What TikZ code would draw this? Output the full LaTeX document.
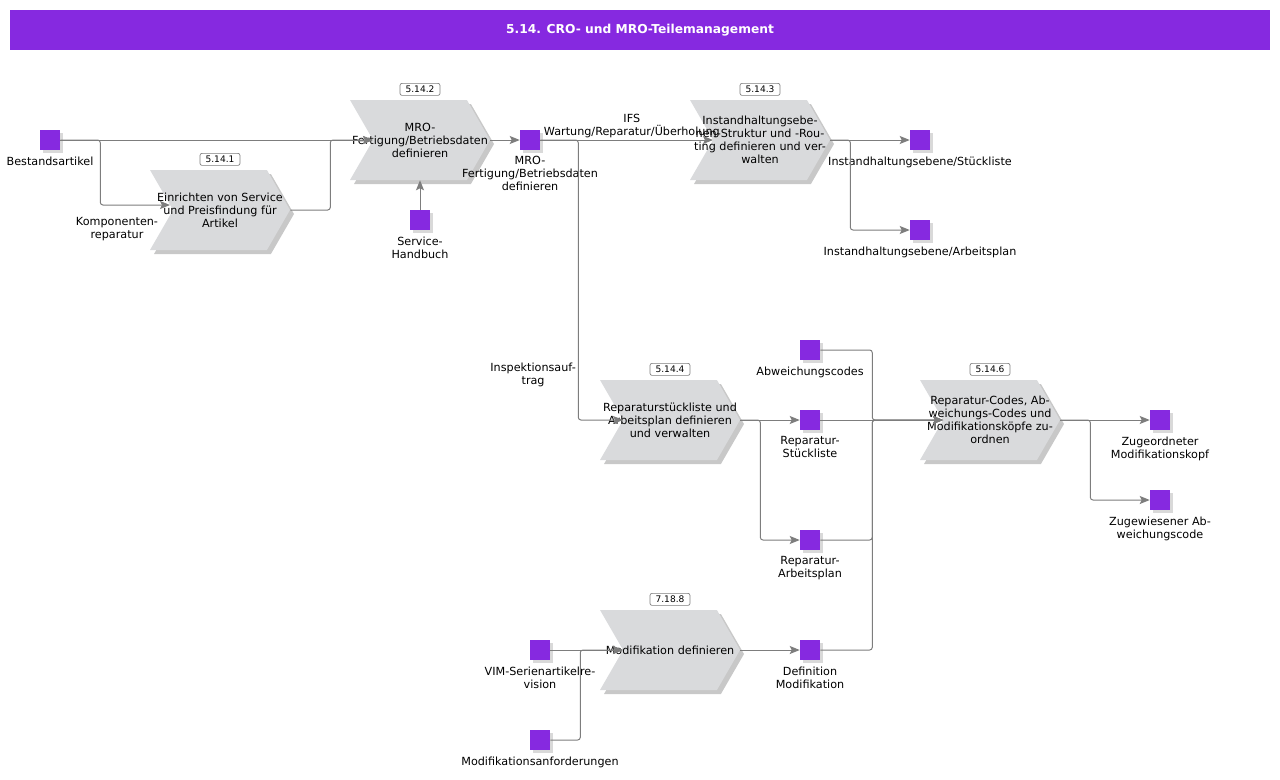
\documentclass[tikz,border=0pt]{standalone}
\usepackage{fontspec}
\setmainfont{DejaVu Sans}
\usetikzlibrary{shapes.symbols,shadows,arrows.meta,calc}
\definecolor{title-purple}{RGB}{134,41,224}
\definecolor{chevron-gray}{RGB}{217,218,220}
\definecolor{shadow-gray}{RGB}{200,200,200}
\definecolor{line-gray}{RGB}{125,125,125}
\tikzset{
    title-bar/.style = {fill=title-purple, text=white, font=\fontsize{9.2}{11}\selectfont\bfseries, minimum width=945pt, minimum height=30pt, inner sep=0pt},
    process-step/.style = {signal, signal to=east, signal from=west, signal pointer angle=120, fill=chevron-gray, minimum width=105pt, minimum height=60pt, inner sep=0pt, drop shadow={shadow xshift=3pt, shadow yshift=-3pt, fill=shadow-gray, opacity=1}},
    process-id/.style = {draw=line-gray, fill=white, rounded corners=1.5pt, line width=0.5pt, minimum width=30pt, minimum height=9pt, inner sep=0pt, font=\fontsize{6.8}{8}\selectfont, label distance=3pt},
    process-text/.style = {align=center, inner sep=0pt},
    data-box/.style = {fill=title-purple, minimum size=15pt, inner sep=0pt, drop shadow={shadow xshift=2pt, shadow yshift=-2pt, fill=shadow-gray!70, opacity=1}},
    data-text/.style = {align=center, inner sep=1pt, label distance=3.5pt},
    flow-arrow/.style = {draw=line-gray, line width=0.75pt, rounded corners=2pt, -{Stealth[length=7.5pt, width=6pt, inset=1.5pt]}},
    flow-text/.style = {align=center, inner sep=1.5pt},
}

\begin{document}
\begin{tikzpicture}[x=0.75pt, y=-0.75pt, font=\fontsize{8.4}{9.75}\selectfont]
\useasboundingbox (0,0) rectangle (1280,779);
\node[title-bar] (title) at (640,30) {5.14. CRO- und MRO-Teilemanagement};

% process steps
\node[process-step, label={[process-id]above:5.14.1},
      label={[process-text]center:{Einrichten von Service\\und Preisfindung für\\Artikel}}] (p1) at (220,210) {};
\node[process-step, label={[process-id]above:5.14.2},
      label={[process-text]center:{MRO-\\Fertigung/Betriebsdaten\\definieren}}] (p2) at (420,140) {};
\node[process-step, label={[process-id]above:5.14.3},
      label={[process-text]center:{Instandhaltungsebe-\\nen-Struktur und -Rou-\\ting definieren und ver-\\walten}}] (p3) at (760,140) {};
\node[process-step, label={[process-id]above:5.14.4},
      label={[process-text]center:{Reparaturstückliste und\\Arbeitsplan definieren\\und verwalten}}] (p4) at (670,420) {};
\node[process-step, label={[process-id]above:5.14.6},
      label={[process-text]center:{Reparatur-Codes, Ab-\\weichungs-Codes und\\Modifikationsköpfe zu-\\ordnen}}] (p6) at (990,420) {};
\node[process-step, label={[process-id]above:7.18.8},
      label={[process-text]center:{Modifikation definieren}}] (p8) at (670,650) {};

% data objects
\node[data-box, label={[data-text]below:Bestandsartikel}] (bestand) at (50,140) {};
\node[data-box, label={[data-text]below:{Service-\\Handbuch}}] (handbuch) at (420,220) {};
\node[data-box, label={[data-text]below:{MRO-\\Fertigung/Betriebsdaten\\definieren}}] (mrodat) at (530,140) {};
\node[data-box, label={[data-text]below:Instandhaltungsebene/Stückliste}] (istl) at (920,140) {};
\node[data-box, label={[data-text]below:Instandhaltungsebene/Arbeitsplan}] (iapl) at (920,230) {};
\node[data-box, label={[data-text]below:Abweichungscodes}] (abw) at (810,350) {};
\node[data-box, label={[data-text]below:{Reparatur-\\Stückliste}}] (rstl) at (810,420) {};
\node[data-box, label={[data-text]below:{Reparatur-\\Arbeitsplan}}] (rapl) at (810,540) {};
\node[data-box, label={[data-text]below:{Definition\\Modifikation}}] (defmod) at (810,650) {};
\node[data-box, label={[data-text]below:{VIM-Serienartikelre-\\vision}}] (vim) at (540,650) {};
\node[data-box, label={[data-text]below:Modifikationsanforderungen}] (modanf) at (540,740) {};
\node[data-box, label={[data-text]below:{Zugeordneter\\Modifikationskopf}}] (zmk) at (1160,420) {};
\node[data-box, label={[data-text]below:{Zugewiesener Ab-\\weichungscode}}] (zac) at (1160,500) {};

% connectors
\draw[flow-arrow] (bestand.east) -- ($(p2.center)+(-47,0)$);
\draw[flow-arrow] (bestand.east) -- ++(40,0) |- node[flow-text, below=7pt, pos=0.62] {Komponenten-\\reparatur} ($(p1.center)+(-50,-5)$);
\draw[flow-arrow] (p1.east) -- ++(40,0) |- ($(p2.center)+(-47,0)$);
\draw[flow-arrow] (handbuch.north) -- (p2.south);
\draw[flow-arrow] (p2.east) -- (mrodat.west);
\draw[flow-arrow] (mrodat.east) -- node[flow-text, above, pos=0.53] {IFS\\Wartung/Reparatur/Überholung} ($(p3.center)+(-47,0)$);
\draw[flow-arrow] (mrodat.east) -- ++(38,0) |- node[flow-text, left, pos=0.42] {Inspektionsauf-\\trag} ($(p4.center)+(-47,0)$);
\draw[flow-arrow] (p3.east) -- (istl.west);
\draw[flow-arrow] (p3.east) -- ++(20,0) |- (iapl.west);
\draw[flow-arrow] (p4.east) -- (rstl.west);
\draw[flow-arrow] (p4.east) -- ++(20,0) |- (rapl.west);
\draw[flow-arrow] (abw.east) -- ++(52,0) |- ($(p6.center)+(-47,0)$);
\draw[flow-arrow] (rstl.east) -- ($(p6.center)+(-47,0)$);
\draw[flow-arrow] (rapl.east) -- ++(52,0) |- ($(p6.center)+(-47,0)$);
\draw[flow-arrow] (defmod.east) -- ++(52,0) |- ($(p6.center)+(-47,0)$);
\draw[flow-arrow] (p6.east) -- (zmk.west);
\draw[flow-arrow] (p6.east) -- ++(30,0) |- (zac.west);
\draw[flow-arrow] (vim.east) -- ($(p8.center)+(-47,0)$);
\draw[flow-arrow] (modanf.east) -- ++(30,0) |- ($(p8.center)+(-47,0)$);
\draw[flow-arrow] (p8.east) -- (defmod.west);
\end{tikzpicture}
\end{document}
